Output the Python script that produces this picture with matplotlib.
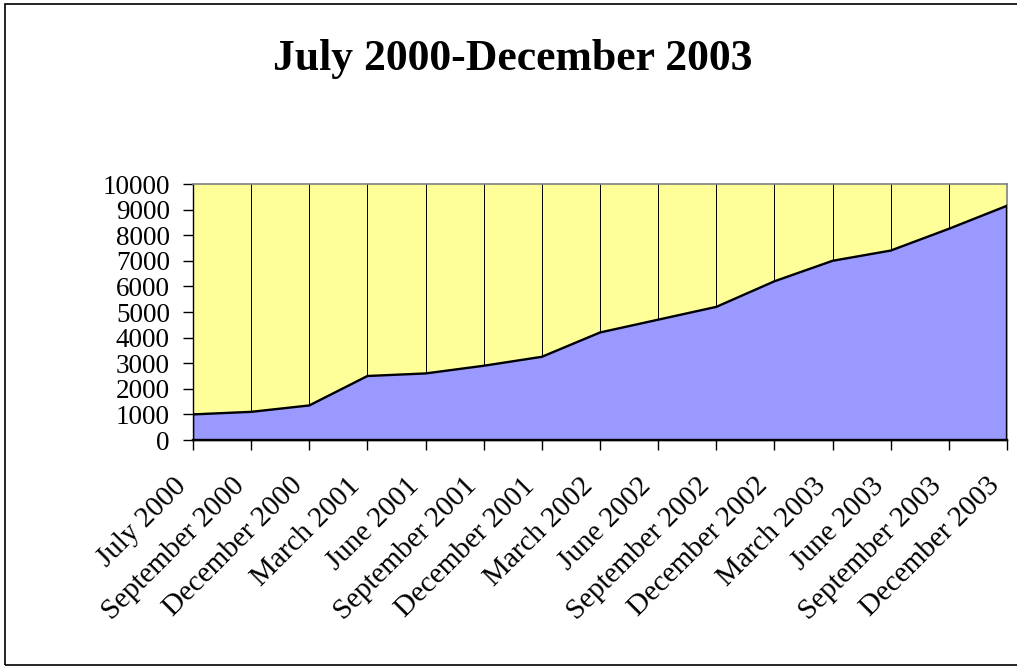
import matplotlib
matplotlib.use("Agg")
import matplotlib.pyplot as plt
from matplotlib.patches import Rectangle
from matplotlib.transforms import ScaledTranslation

categories = ["July 2000", "September 2000", "December 2000", "March 2001",
              "June 2001", "September 2001", "December 2001", "March 2002",
              "June 2002", "September 2002", "December 2002", "March 2003",
              "June 2003", "September 2003", "December 2003"]
values = [1000, 1100, 1350, 2500, 2600, 2900, 3250, 4200, 4700, 5200,
          6200, 7000, 7400, 8250, 9150]
y_ticks = [0, 1000, 2000, 3000, 4000, 5000, 6000, 7000, 8000, 9000, 10000]
title = "July 2000-December 2003"

W, H = 1017, 666
fig = plt.figure(figsize=(W / 100, H / 100), dpi=100)
serif = "Liberation Serif"

ax = fig.add_axes([193 / W, 1 - 440 / H, (1007 - 193) / W, (440 - 184) / H])
x = list(range(len(categories)))

ax.set_facecolor("#FFFF99")
ax.set_xlim(0, len(categories) - 1)
ax.set_ylim(0, 10000)

# vertical gridlines
for xi in x:
    ax.axvline(xi, color="black", lw=0.7, zorder=1)

ax.fill_between(x, values, 0, facecolor="#9999FF", edgecolor="none", zorder=2)
ax.plot(x, values, color="black", lw=1.7, zorder=3, solid_joinstyle="miter")
ax.plot([x[0], x[0]], [0, values[0]], color="black", lw=1.7, zorder=3)
ax.plot([x[-1], x[-1]], [0, values[-1]], color="black", lw=1.7, zorder=3)
ax.plot([x[0], x[-1]], [0, 0], color="black", lw=1.7, zorder=3, clip_on=False)

for side in ["top", "right"]:
    ax.spines[side].set_color("#808080")
    ax.spines[side].set_linewidth(1.2)
ax.spines["left"].set_color("black")
ax.spines["bottom"].set_color("black")
ax.spines["left"].set_linewidth(1.0)
ax.spines["bottom"].set_linewidth(1.0)

ax.set_yticks(y_ticks)
ax.set_yticklabels([str(v) for v in y_ticks], fontsize=19.5, family=serif)
ax.tick_params(axis="y", direction="out", length=7.2, width=1, pad=9.4)

ax.set_xticks(x)
ax.set_xticklabels(categories, fontsize=21, family=serif, rotation=45,
                   ha="right", va="center", rotation_mode="anchor")
ax.tick_params(axis="x", direction="out", length=7.2, width=1, pad=23)
offset = ScaledTranslation(-11 / 100, 0, fig.dpi_scale_trans)
for lab in ax.get_xticklabels():
    lab.set_transform(lab.get_transform() + offset)

fig.text(513 / W, 1 - 70 / H, title, ha="center", va="baseline",
         fontsize=31.5, fontweight="bold", family=serif)

# figure border
fig.patches.append(Rectangle((5 / W, 1 - 665 / H), 1.2, (665 - 4) / H,
                             transform=fig.transFigure, fill=False,
                             edgecolor="black", lw=1.2))

fig.savefig("out.png", dpi=100)
